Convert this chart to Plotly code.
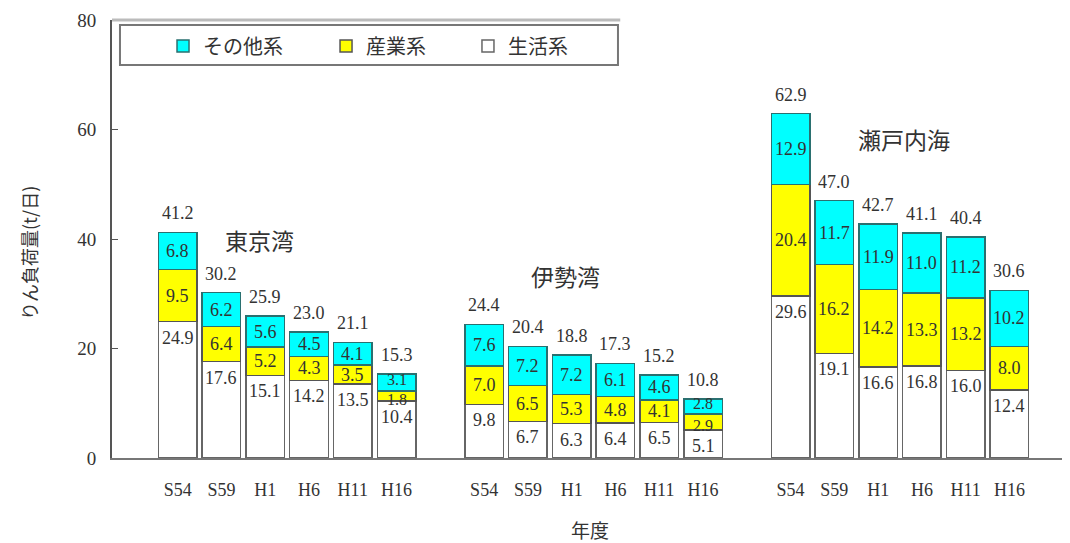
import plotly.graph_objects as go

regions = ["東京湾", "伊勢湾", "瀬戸内海"]
years = ["S54", "S59", "H1", "H6", "H11", "H16"]

# 生活系 (domestic)
living = [24.9, 17.6, 15.1, 14.2, 13.5, 10.4,
          9.8, 6.7, 6.3, 6.4, 6.5, 5.1,
          29.6, 19.1, 16.6, 16.8, 16.0, 12.4]
# 産業系 (industrial)
industry = [9.5, 6.4, 5.2, 4.3, 3.5, 1.8,
            7.0, 6.5, 5.3, 4.8, 4.1, 2.9,
            20.4, 16.2, 14.2, 13.3, 13.2, 8.0]
# その他系 (other)
other = [6.8, 6.2, 5.6, 4.5, 4.1, 3.1,
         7.6, 7.2, 7.2, 6.1, 4.6, 2.8,
         12.9, 11.7, 11.9, 11.0, 11.2, 10.2]
totals = [41.2, 30.2, 25.9, 23.0, 21.1, 15.3,
          24.4, 20.4, 18.8, 17.3, 15.2, 10.8,
          62.9, 47.0, 42.7, 41.1, 40.4, 30.6]

# slot positions: 6 bars per region, 1 empty slot gap between regions
xpos = [g * 7 + i for g in range(len(regions)) for i in range(len(years))]
xlabels = [y for _ in regions for y in years]

FONT = "Liberation Serif, Noto Sans CJK JP, serif"
JFONT = "Noto Sans CJK JP, sans-serif"
TXT = "#333333"
WIDTH = 0.88
NUM = 18

fig = go.Figure()
fig.add_trace(go.Bar(x=xpos, y=living, name="生活系", width=WIDTH, legend="legend3",
                     marker=dict(color="white", line=dict(color="#666666", width=1.5))))
fig.add_trace(go.Bar(x=xpos, y=industry, name="産業系", width=WIDTH, legend="legend2",
                     marker=dict(color="#FFFF00", line=dict(color="#555555", width=1.5))))
fig.add_trace(go.Bar(x=xpos, y=other, name="その他系", width=WIDTH, legend="legend",
                     marker=dict(color="#00FFFF", line=dict(color="#2a7070", width=1.5))))

annotations = []
for x, a, b, c, t in zip(xpos, living, industry, other, totals):
    thin = b < 3.0  # very thin yellow segment: spread the two labels apart a little
    annotations.append(dict(x=x, y=a, text=f"{a:.1f}", showarrow=False,
                            yanchor="middle", yshift=-16,
                            font=dict(family=FONT, size=NUM, color=TXT)))
    annotations.append(dict(x=x, y=a + b / 2, text=f"{b:.1f}", showarrow=False,
                            yanchor="middle", yshift=-3 if thin else 0,
                            font=dict(family=FONT, size=16 if thin else NUM, color=TXT)))
    annotations.append(dict(x=x, y=a + b + c / 2, text=f"{c:.1f}", showarrow=False,
                            yanchor="middle", yshift=3 if thin else 0,
                            font=dict(family=FONT, size=16 if thin else NUM, color=TXT)))
    annotations.append(dict(x=x, y=t, text=f"{t:.1f}", showarrow=False,
                            yanchor="middle", yshift=19,
                            font=dict(family=FONT, size=NUM, color=TXT)))

region_pos = [(1.87, 39.8), (8.87, 33.2), (16.58, 58.3)]
for name, (rx, ry) in zip(regions, region_pos):
    annotations.append(dict(x=rx, y=ry, text=name, showarrow=False,
                            font=dict(family=JFONT, size=23, color="#333333")))

annotations.append(dict(xref="paper", yref="paper", x=0.503, y=-0.164,
                        text="年度", showarrow=False, yanchor="middle",
                        font=dict(family=JFONT, size=19, color="#333333")))
annotations.append(dict(xref="paper", yref="paper", x=-0.0874, y=0.468,
                        text="りん負荷量(t/日)", showarrow=False, textangle=-90,
                        xanchor="center", yanchor="middle",
                        font=dict(family=JFONT, size=18, color="#333333")))

leg_common = dict(orientation="h", yanchor="middle", xanchor="left", y=0.9406,
                  bgcolor="rgba(0,0,0,0)", borderwidth=0,
                  font=dict(family=JFONT, size=20, color="#333333"))

fig.update_layout(
    width=1070, height=543,
    margin=dict(l=104, r=16, t=12, b=93, autoexpand=False),
    paper_bgcolor="white", plot_bgcolor="white",
    barmode="stack",
    font=dict(family=FONT, size=14, color="#333333"),
    showlegend=True,
    legend=dict(x=0.0537, **leg_common),
    legend2=dict(x=0.2253, **leg_common),
    legend3=dict(x=0.3747, **leg_common),
    xaxis=dict(range=[-1.5, 20.2], tickmode="array", tickvals=xpos, ticktext=xlabels,
               showgrid=False, zeroline=False, showline=True, linecolor="#777777",
               linewidth=2, ticks="", ticklabelstandoff=14,
               tickfont=dict(family=FONT, size=18, color="#333333")),
    yaxis=dict(range=[0, 80], tickvals=[0, 20, 40, 60, 80], showgrid=False,
               zeroline=False, showline=True, linecolor="#555555", linewidth=2,
               ticks="inside", ticklen=6, tickcolor="#555555", ticklabelstandoff=10,
               tickfont=dict(family=FONT, size=19, color="#333333")),
    annotations=annotations,
    shapes=[
        dict(type="rect", xref="paper", yref="paper",
             x0=0.0084, x1=0.5326, y0=0.8973, y1=0.9886,
             line=dict(color="#777777", width=2), fillcolor="white", layer="below"),
        dict(type="line", xref="paper", yref="paper",
             x0=0.0, x1=0.535, y0=1.0, y1=1.0,
             line=dict(color="#bbbbbb", width=3)),
    ],
)

fig.write_html("out.html")
